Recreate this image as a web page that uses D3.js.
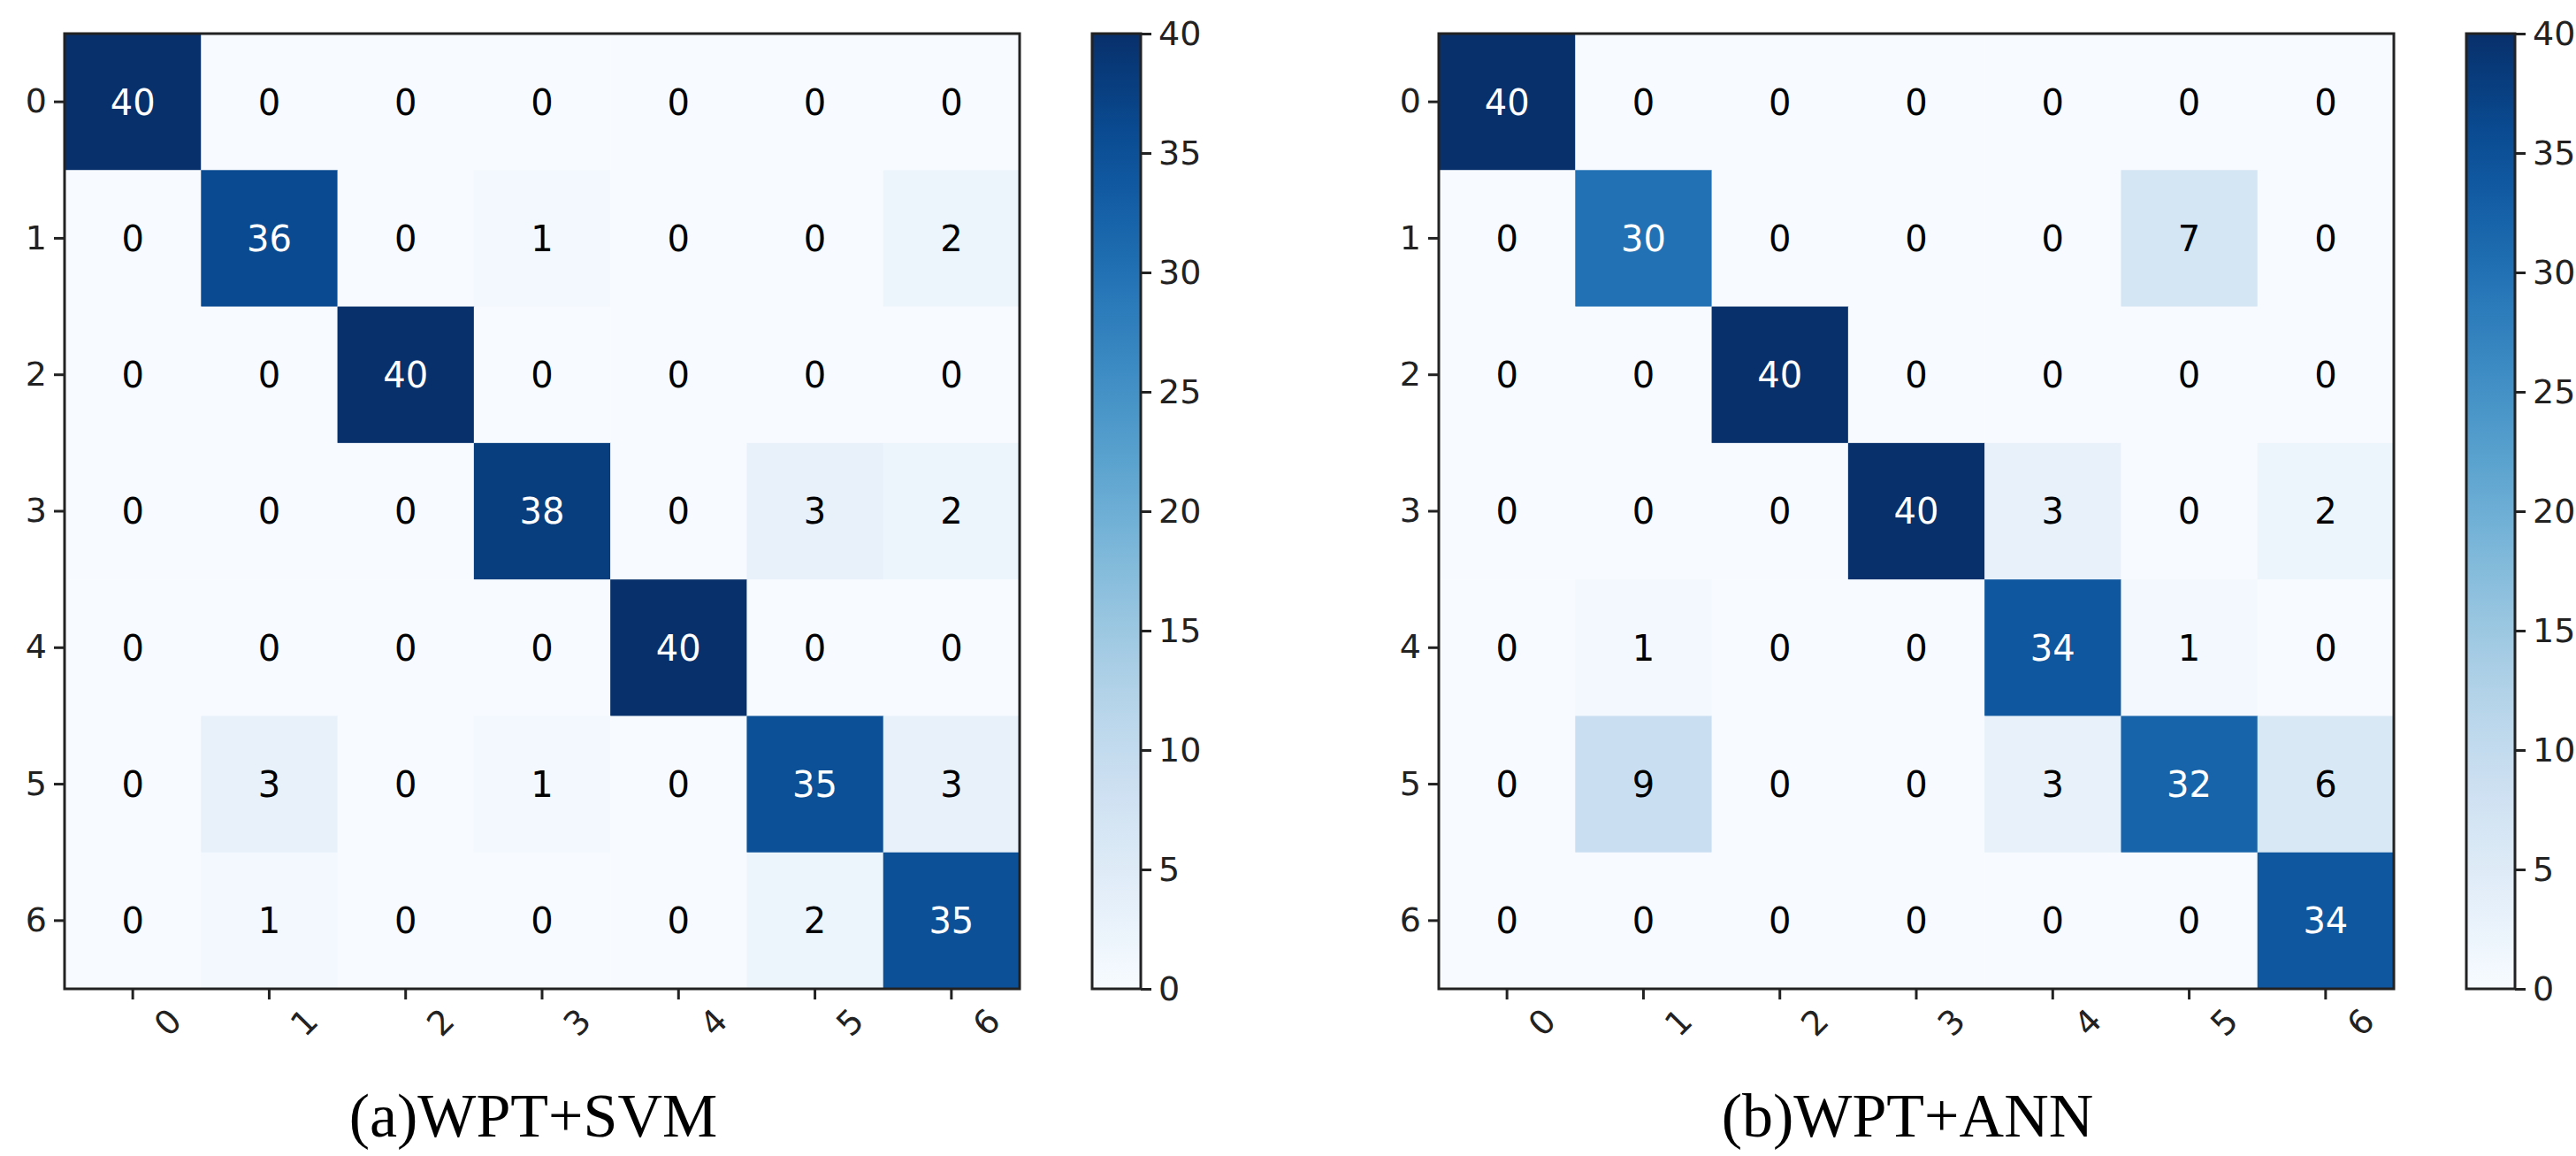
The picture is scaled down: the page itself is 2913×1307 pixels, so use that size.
<!DOCTYPE html><html><head><script src="https://cdn.jsdelivr.net/npm/d3@7"></script>
<style>html,body{margin:0;background:#fff;width:100%;height:100%;overflow:hidden}svg{display:block;width:100vw;height:100vh}</style></head><body><svg id="c" viewBox="0 0 2913 1307" preserveAspectRatio="xMidYMid meet"></svg>
<script>
const labels=["0","1","2","3","4","5","6"];
const svmMatrix=[[40,0,0,0,0,0,0],[0,36,0,1,0,0,2],[0,0,40,0,0,0,0],[0,0,0,38,0,3,2],[0,0,0,0,40,0,0],[0,3,0,1,0,35,3],[0,1,0,0,0,2,35]];
const annMatrix=[[40,0,0,0,0,0,0],[0,30,0,0,0,7,0],[0,0,40,0,0,0,0],[0,0,0,40,3,0,2],[0,1,0,0,34,1,0],[0,9,0,0,3,32,6],[0,0,0,0,0,0,34]];
const cbTicks=[0,5,10,15,20,25,30,35,40];
const titles=["(a)WPT+SVM","(b)WPT+ANN"];
const svg=d3.select("#c");
const color=d3.scaleSequential(d3.interpolateBlues).domain([0,40]);
const panels=[{m:svmMatrix,x0:73,x1:1153,cb:1235,t:titles[0]},{m:annMatrix,x0:1627,x1:2707,cb:2789,t:titles[1]}];
const y0=38,y1=1118;
panels.forEach(p=>{
  const g=svg.append("g");
  const x=d3.scaleBand().domain(labels).range([p.x0,p.x1]);
  const y=d3.scaleBand().domain(labels).range([y0,y1]);
  p.m.forEach((row,i)=>row.forEach((v,j)=>{
    g.append("rect").attr("x",x(labels[j])).attr("y",y(labels[i])).attr("width",x.bandwidth()+0.5).attr("height",y.bandwidth()+0.5).attr("fill",color(v));
    g.append("text").attr("x",x(labels[j])+x.bandwidth()/2).attr("y",y(labels[i])+y.bandwidth()/2).attr("dy","0.36em")
      .attr("text-anchor","middle").attr("font-family","DejaVu Sans").attr("font-size",40).attr("fill",v>20?"#fff":"#000").text(v);
  }));
  g.append("rect").attr("x",p.x0).attr("y",y0).attr("width",p.x1-p.x0).attr("height",y1-y0).attr("fill","none").attr("stroke","#222").attr("stroke-width",3);
  const ax=g.append("g").attr("transform",`translate(0,${y1})`).call(d3.axisBottom(x).tickSize(12).tickPadding(18));
  ax.select(".domain").remove();
  ax.selectAll("line").attr("stroke","#222").attr("stroke-width",3);
  ax.selectAll("text").attr("font-family","DejaVu Sans").attr("font-size",38).attr("fill","#222")
    .attr("text-anchor","end").attr("dx","0.35em").attr("dy","1.0em").attr("transform","rotate(-45)");
  const ay=g.append("g").attr("transform",`translate(${p.x0},0)`).call(d3.axisLeft(y).tickSize(12).tickPadding(8));
  ay.select(".domain").remove();
  ay.selectAll("line").attr("stroke","#222").attr("stroke-width",3);
  ay.selectAll("text").attr("font-family","DejaVu Sans").attr("font-size",38).attr("fill","#222");
  const cw=55, cy=d3.scaleLinear().domain([0,40]).range([y1,y0]);
  const id="grad"+p.cb;
  const grad=svg.append("defs").append("linearGradient").attr("id",id).attr("x1",0).attr("y1",1).attr("x2",0).attr("y2",0);
  d3.range(0,1.001,0.05).forEach(t=>grad.append("stop").attr("offset",t).attr("stop-color",d3.interpolateBlues(t)));
  g.append("rect").attr("x",p.cb).attr("y",y0).attr("width",cw).attr("height",y1-y0).attr("fill",`url(#${id})`).attr("stroke","#222").attr("stroke-width",3);
  const ac=g.append("g").attr("transform",`translate(${p.cb+cw},0)`).call(d3.axisRight(cy).tickValues(cbTicks).tickSize(12).tickPadding(8));
  ac.select(".domain").remove();
  ac.selectAll("line").attr("stroke","#222").attr("stroke-width",3);
  ac.selectAll("text").attr("font-family","DejaVu Sans").attr("font-size",38).attr("fill","#222");
  g.append("text").attr("x",(p.x0+p.x1)/2-10).attr("y",1285).attr("text-anchor","middle")
    .attr("font-family","Liberation Serif").attr("font-size",70).attr("fill","#000").text(p.t);
});
</script></body></html>
